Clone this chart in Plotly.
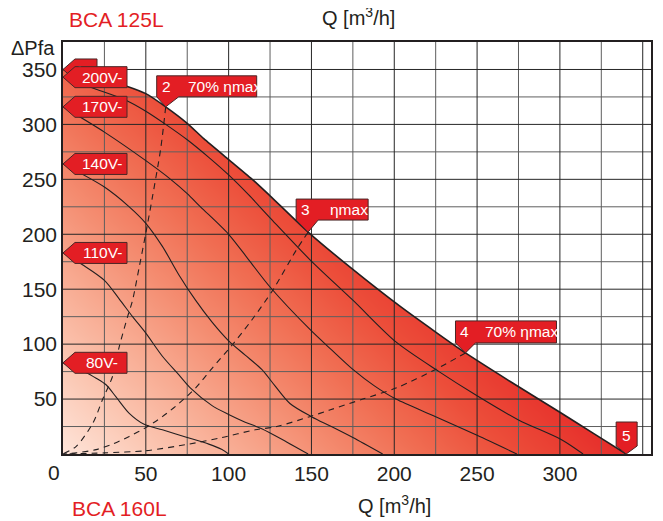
import numpy as np
import plotly.graph_objects as go

# ---------------- data ----------------
X_MAX = 355
Y_MAX = 375
x_ticks = [50, 100, 150, 200, 250, 300]
y_ticks = [50, 100, 150, 200, 250, 300, 350]

# working range boundary (points 1 .. 5)
max_q = [0, 20, 38, 50, 62, 75, 85, 100, 115, 125, 148, 175, 203, 225, 243, 270, 300, 320, 340]
max_p = [350, 343, 335, 328, 316, 301, 287, 268, 249, 235, 202, 168, 135, 111, 92, 66, 38, 19, 0]

# speed curves
v200_q = [0, 20, 38, 50, 62, 75, 88, 100, 112, 125, 149, 175, 201, 227, 250, 275, 301, 314]
v200_p = [343, 332, 322, 312, 300, 286, 270, 254, 236, 215, 177, 140, 102, 75, 53, 31, 13, 0]

v170_q = [0, 25, 50, 65, 75, 83, 100, 112, 125, 150, 162, 175, 188, 201, 225, 250, 274]
v170_p = [316, 293, 267, 250, 237, 225, 200, 177, 152, 112, 95, 77, 62, 50, 34, 17, 0]

v140_q = [0, 25, 40, 50, 60, 70, 80, 90, 100, 110, 120, 128, 137, 150, 162, 175, 193]
v140_p = [264, 243, 225, 210, 189, 163, 140, 120, 103, 90, 77, 62, 46, 34, 25, 15, 0]

v110_q = [0, 12, 25, 34, 42, 50, 60, 70, 77, 90, 100, 110, 120, 135, 148]
v110_p = [183, 172, 158, 141, 125, 110, 89, 72, 60, 44, 36, 29, 23, 11, 0]

v80_q = [0, 8, 14, 20, 26, 32, 40, 49, 60, 75, 88, 96, 100]
v80_p = [83, 77, 74, 69, 63, 52, 37, 27, 22, 15, 9, 4, 0]

# efficiency lines (first point = tip of their callout)
eff2_q = [62, 59, 54, 50, 46, 42, 39, 34, 30, 24, 18, 8, 0]
eff2_p = [316, 278, 234, 201, 170, 140, 125, 98, 71, 50, 28, 7, 0]

eff3_q = [148, 141, 127, 114, 102, 90, 80, 70, 60, 50, 40, 30, 20, 8, 0]
eff3_p = [202, 186, 150, 122, 99, 78, 60, 46, 34, 24, 16, 9, 4, 1, 0]

eff4_q = [243, 225, 201, 181, 161, 149, 129, 116, 96, 76, 50, 25, 0]
eff4_p = [92, 77, 60, 50, 40, 34, 25, 22, 15, 9, 3, 1, 0]

speed_labels = ["200V-", "170V-", "140V-", "110V-", "80V-"]

# ---------------- styling ----------------
FONT = "Liberation Sans, Arial, Helvetica, sans-serif"
INK = "#231f20"
RED = "#e31e24"
BOX_LINE = "#4a2626"

fig = go.Figure()

# gradient background (diagonal in pixel space)
PLOT_W, PLOT_H = 590, 412
gx = np.linspace(0, X_MAX, 90)
gy = np.linspace(0, Y_MAX, 90)
gz = np.add.outer(gy * PLOT_H / Y_MAX, gx * PLOT_W / X_MAX)
fig.add_trace(go.Heatmap(
    x=gx, y=gy, z=gz, zmin=0, zmax=600, zsmooth="best", showscale=False,
    hoverinfo="skip",
    colorscale=[
        [0.0, "#fee4d9"], [0.15, "#fbc8b4"], [0.3, "#f8ab92"],
        [0.45, "#f48c70"], [0.6, "#f06d52"], [0.75, "#ec4e3a"],
        [0.88, "#e8382f"], [1.0, "#e42228"],
    ],
))

# white area above the working range
fig.add_trace(go.Scatter(
    x=[0, X_MAX, X_MAX], y=[Y_MAX, Y_MAX, 0], mode="lines",
    line=dict(width=0, color="white"), hoverinfo="skip",
))
fig.add_trace(go.Scatter(
    x=max_q, y=max_p, mode="lines", fill="tonexty", fillcolor="white",
    line=dict(width=0, color="white", shape="spline", smoothing=0.6),
    hoverinfo="skip",
))

# grid lines
def grid_xy(values_x, values_y):
    xs, ys = [], []
    for v in values_x:
        xs += [v, v, None]
        ys += [0, Y_MAX, None]
    for v in values_y:
        xs += [0, X_MAX, None]
        ys += [v, v, None]
    return xs, ys

major_x = [v for v in range(50, X_MAX, 50)]
major_y = [v for v in range(50, Y_MAX, 50)]
minor_x = [v for v in range(25, X_MAX, 50)]
minor_y = [v for v in range(25, Y_MAX, 50)]
mx, my = grid_xy(minor_x, minor_y)
fig.add_trace(go.Scatter(x=mx, y=my, mode="lines",
                         line=dict(color="#5e5e5e", width=1), hoverinfo="skip"))
Mx, My = grid_xy(major_x, major_y)
fig.add_trace(go.Scatter(x=Mx, y=My, mode="lines",
                         line=dict(color="#262626", width=1), hoverinfo="skip"))

# efficiency (dashed) lines
for q, p in [(eff2_q, eff2_p), (eff3_q, eff3_p), (eff4_q, eff4_p)]:
    fig.add_trace(go.Scatter(
        x=q, y=p, mode="lines", hoverinfo="skip",
        line=dict(color=INK, width=1.1, dash="6px,5px", shape="spline", smoothing=0.8),
    ))

# speed curves
speed_curves = [(v200_q, v200_p), (v170_q, v170_p), (v140_q, v140_p),
                (v110_q, v110_p), (v80_q, v80_p)]
for q, p in speed_curves:
    fig.add_trace(go.Scatter(
        x=q, y=p, mode="lines", hoverinfo="skip",
        line=dict(color=INK, width=1.1, shape="spline", smoothing=0.8),
    ))

# boundary line
fig.add_trace(go.Scatter(
    x=max_q, y=max_p, mode="lines", hoverinfo="skip",
    line=dict(color=INK, width=1.6, shape="spline", smoothing=0.6),
))

# ---------------- callouts ----------------
shapes = []
annotations = []

def callout(xa, ya, path, label=None):
    d = dict(type="path", xref="x", yref="y", xsizemode="pixel", ysizemode="pixel",
             xanchor=xa, yanchor=ya, path=path, fillcolor=RED,
             line=dict(color=BOX_LINE, width=1), layer="above")
    if label is not None:
        d["label"] = dict(text=label, font=dict(family=FONT, size=15, color="white"),
                          textposition="middle center", padding=0)
    shapes.append(d)

def box_text(xa, ya, text, dx, dy, anchor="center"):
    annotations.append(dict(x=xa, y=ya, xref="x", yref="y", text=text, showarrow=False,
                            xanchor=anchor, yanchor="middle", xshift=dx, yshift=dy,
                            font=dict(family=FONT, size=15.5, color="white")))

# point 1 (mostly hidden behind the 200V tag)
callout(max_q[0], max_p[0], "M0,0 L12,10.5 L34,10.5 L34,-10.5 L12,-10.5 Z", label="1")

arrow_left = "M0,0 L12,10.5 L64,10.5 L64,-10.5 L12,-10.5 Z"
for (q, p), lab in zip(speed_curves, speed_labels):
    callout(q[0], p[0], arrow_left)
    box_text(q[0], p[0], lab, 39, 0)

# point 2 : 70% eta max
callout(eff2_q[0], eff2_p[0], "M0,0 L-9,10 L-9,31 L91,31 L91,10 L13,10 Z")
box_text(eff2_q[0], eff2_p[0], "2", 1, 20)
box_text(eff2_q[0], eff2_p[0], "70% ηmax", 20, 20, "left")

# point 3 : eta max
callout(eff3_q[0], eff3_p[0], "M0,0 L-12,12 L-12,33 L60,33 L60,12 L10,12 Z")
box_text(eff3_q[0], eff3_p[0], "3", -2.5, 22.5)
box_text(eff3_q[0], eff3_p[0], "ηmax", 20, 22.5, "left")

# point 4 : 70% eta max
callout(eff4_q[0], eff4_p[0], "M0,0 L-10,10 L-10,32 L91,32 L91,10 L10,10 Z")
box_text(eff4_q[0], eff4_p[0], "4", -1, 21)
box_text(eff4_q[0], eff4_p[0], "70% ηmax", 18, 21, "left")

# point 5
callout(max_q[-1], max_p[-1], "M0,0 L-10,8 L-10,32 L11,32 L11,8 Z")
box_text(max_q[-1], max_p[-1], "5", 0.5, 19)

# ---------------- titles / axis texts ----------------
def paper_text(x, y, text, dy, size=20, color=INK, xanchor="center", dx=0, xref="paper"):
    annotations.append(dict(x=x, y=y, xref=xref, yref="paper", text=text, showarrow=False,
                            xanchor=xanchor, yanchor="middle", xshift=dx, yshift=dy,
                            font=dict(family=FONT, size=size, color=color)))

paper_text(0.0907, 1, "BCA 125L", 22.5, size=21, color=RED)
paper_text(0.502, 1, "Q [m<sup>3</sup>/h]", 26, size=20)
paper_text(0.0, 1, "ΔPfa", -6, size=20, xanchor="right", dx=-6)
paper_text(0.563, 0, "Q [m<sup>3</sup>/h]", -50, size=20)
paper_text(0.0966, 0, "BCA 160L", -54, size=21, color=RED)
paper_text(0, 0, "0", -18, size=21, xref="x", dx=-9.5)

# the page adds an 8px body margin, so the figure is drawn 8px smaller
fig.update_layout(
    width=655, height=513,
    margin=dict(l=55, r=10, t=34, b=67, pad=0),
    plot_bgcolor="white", paper_bgcolor="white",
    showlegend=False,
    font=dict(family=FONT, color=INK),
    shapes=shapes, annotations=annotations,
    xaxis=dict(range=[0, X_MAX], tickvals=x_ticks, ticktext=[str(v) for v in x_ticks],
               showgrid=False, zeroline=False, showline=True, mirror=True,
               linecolor=INK, linewidth=1.5, ticks="", layer="above traces",
               tickfont=dict(family=FONT, size=21, color=INK), fixedrange=True),
    yaxis=dict(range=[0, Y_MAX], tickvals=y_ticks, ticktext=[str(v) for v in y_ticks],
               showgrid=False, zeroline=False, showline=True, mirror=True,
               linecolor=INK, linewidth=1.5, ticks="", layer="above traces",
               tickfont=dict(family=FONT, size=21, color=INK), fixedrange=True),
)

fig.write_html("out.html")
